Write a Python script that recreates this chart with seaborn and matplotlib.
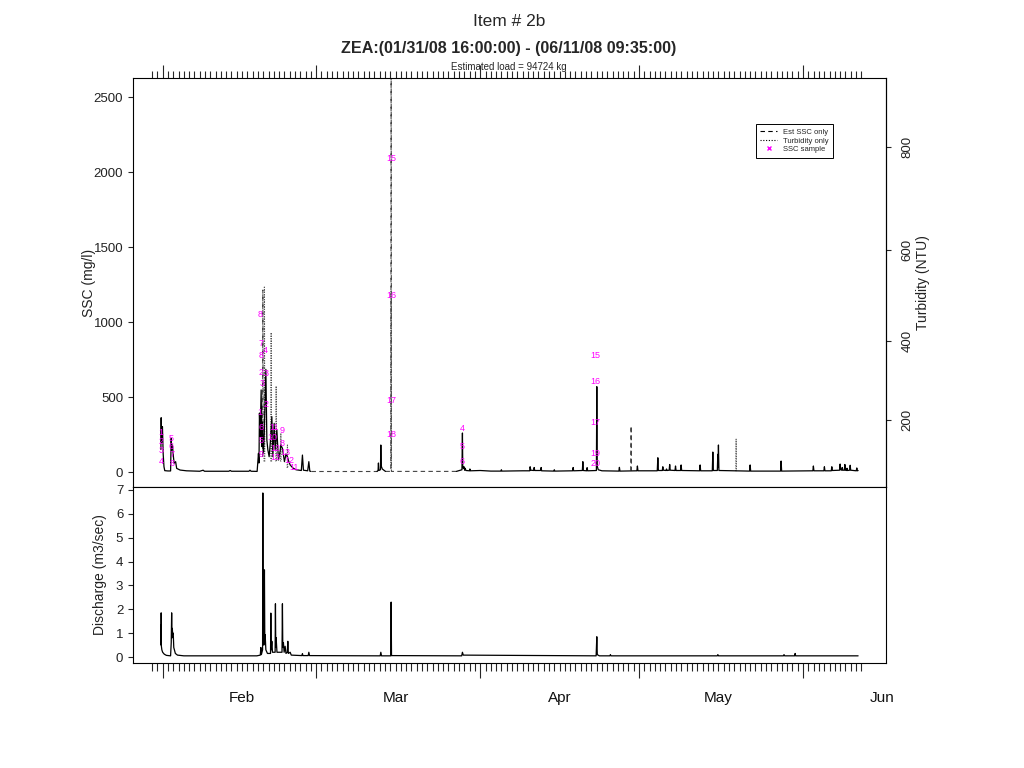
import numpy as np
import pandas as pd
import matplotlib
matplotlib.use('Agg')
import matplotlib.pyplot as plt
import matplotlib.dates as mdates
from matplotlib.ticker import FixedLocator
from matplotlib.lines import Line2D
import seaborn as sns

# all times are days after 2008-02-01 00:00
t0 = pd.Timestamp('2008-02-01')
t_start = pd.Timestamp('2008-01-31 16:00')
t_end = pd.Timestamp('2008-06-11 09:35')

# SSC from turbidity (solid), mg/l
feb_day = [-0.33, -0.28, -0.22, -0.12, -0.04, 0.10, 0.25, 0.40, 1.00, 1.50,
           1.61, 1.70, 1.85, 2.00, 2.17, 2.45, 2.65, 3.30, 4.50, 7.00,
           7.65, 7.90, 12.50, 12.75, 13.00, 16.30, 16.50, 16.70, 17.85, 18.10,
           18.20, 18.29, 18.42, 18.61, 18.74, 18.85, 19.04, 19.20, 19.50, 19.69,
           19.88, 20.12, 20.35, 20.63, 20.82, 21.07, 21.25, 21.58, 21.88, 22.20,
           22.33, 22.63, 23.01, 23.30, 23.58, 23.84, 24.09, 24.60, 25.20, 26.20,
           26.41, 26.60, 27.40, 27.62, 27.80, 28.00]
feb_ssc = [150, 362, 200, 240, 302, 120, 35, 9, 7, 7,
           224, 147, 180, 113, 58, 69, 24, 13, 8, 5,
           12, 5, 5, 10, 5, 5, 12, 5, 4, 124,
           60, 393, 236, 547, 169, 330, 127, 260, 684, 213,
           147, 102, 200, 369, 102, 324, 150, 280, 80, 140,
           180, 158, 69, 120, 100, 69, 47, 27, 15, 10,
           113, 12, 8, 69, 6, 4]

mar_day = [40.50, 40.70, 40.77, 40.85, 41.15, 41.22, 41.30, 41.50, 42.10]
mar_ssc = [4, 10, 60, 10, 15, 180, 40, 20, 4]

spring_day = [55.5, 56.55, 56.64, 56.70, 56.8, 56.95, 57.05, 57.15, 57.3, 58.0,
              58.05, 58.15, 60.0, 62.0, 63.9, 64.0, 64.1, 68.0, 69.35, 69.43,
              69.55, 70.1, 70.19, 70.3, 71.4, 71.51, 71.6, 73.9, 74.0, 74.1,
              77.45, 77.56, 77.65, 79.3, 79.39, 79.48, 80.1, 80.2, 80.3, 81.95,
              82.03, 82.10, 82.3, 83.0, 86.2, 86.3, 86.4, 89.6, 89.7, 89.8,
              93.45, 93.56, 93.66, 94.4, 94.5, 94.6, 95.1, 95.2, 95.3, 95.7,
              95.8, 95.9, 96.8, 96.9, 97.0, 97.86, 97.96, 98.06, 101.45, 101.55,
              101.65, 103.85, 103.95, 104.05, 104.8, 104.89, 104.95, 105.01, 105.1, 110.9,
              111.0, 111.1, 116.75, 116.85, 116.95, 122.85, 122.95, 123.05, 124.93, 125.03,
              125.13, 126.33, 126.43, 126.53, 127.9, 128.0, 128.1, 128.3, 128.4, 128.5,
              128.8, 128.9, 129.0, 129.2, 129.3, 129.4, 129.8, 129.9, 130.0, 131.05,
              131.15, 131.25, 131.4]
spring_ssc = [4, 15, 260, 40, 25, 35, 12, 25, 10, 8,
              20, 8, 10, 6, 6, 15, 6, 8, 8, 35,
              12, 10, 30, 10, 10, 30, 8, 6, 15, 6,
              8, 30, 8, 10, 69, 10, 8, 29, 8, 10,
              569, 40, 15, 8, 6, 31, 6, 8, 40, 8,
              8, 95, 10, 10, 35, 12, 10, 20, 10, 12,
              50, 12, 10, 40, 10, 10, 47, 10, 8, 47,
              8, 8, 133, 10, 10, 118, 30, 180, 10, 6,
              47, 6, 6, 73, 6, 8, 40, 8, 8, 35,
              8, 8, 35, 10, 12, 53, 15, 12, 30, 12,
              12, 50, 12, 10, 25, 10, 12, 45, 12, 8,
              27, 8, 10]

# Est SSC only (dashed)
est_day = [18.88, 18.93, 18.98, 28.0, 40.5, 42.1, 43.12, 43.17, 43.22, 55.5, 88.45, 88.51, 88.57]
est_ssc = [100, 1213, 100, 4, 4, 4, 4, 3000, 4, 4, 10, 307, 10]
est_seg = [1, 1, 1, 2, 2, 3, 3, 3, 3, 3, 4, 4, 4]

# Turbidity only (dotted), NTU
turb_day = [19.15, 19.23, 19.30, 20.42, 20.50, 20.58, 21.38, 21.44, 21.52, 22.27, 22.33,
            22.40, 23.52, 23.58, 23.64, 43.12, 43.17, 43.22, 108.30, 108.35, 108.40]
turb_ntu = [80, 524, 80, 80, 420, 80, 80, 290, 80, 80, 163,
            80, 60, 129, 60, 60, 515, 60, 50, 146, 50]
turb_seg = [1, 1, 1, 2, 2, 2, 3, 3, 3, 4, 4, 4, 5, 5, 5, 6, 6, 6, 7, 7, 7]

# turbidity -> SSC rating used for the right axis
rating_a, rating_b, rating_c = 0.0010125, 2.02, -97.5
ntu_ticks = [200, 400, 600, 800]

# discharge, m3/sec
q_day = [-0.33, -0.30, -0.28, -0.24, -0.15, 0.0, 0.3, 0.7, 1.5, 1.62,
         1.70, 1.76, 1.82, 1.90, 2.0, 2.1, 2.4, 2.8, 4.0, 17.8,
         18.45, 18.55, 18.65, 18.88, 18.93, 18.98, 19.04, 19.12, 19.23, 19.30,
         19.37, 19.5, 19.8, 20.38, 20.44, 20.50, 20.63, 20.75, 21.25, 21.31,
         21.37, 21.44, 21.6, 22.55, 22.63, 22.70, 22.82, 22.95, 23.14, 23.3,
         23.55, 23.65, 23.75, 24.09, 24.3, 26.3, 26.41, 26.5, 27.5, 27.62,
         27.75, 41.1, 41.22, 41.35, 43.10, 43.17, 43.24, 56.5, 56.64, 56.8,
         81.9, 82.03, 82.12, 82.5, 84.5, 84.6, 84.7, 104.8, 104.9, 105.0,
         117.3, 117.4, 117.5, 119.4, 119.5, 119.6, 131.4]
q_val = [1.35, 0.5, 1.85, 0.45, 0.3, 0.2, 0.12, 0.07, 0.05, 0.6,
         1.85, 0.8, 1.2, 0.95, 1.0, 0.4, 0.15, 0.08, 0.05, 0.05,
         0.08, 0.4, 0.1, 0.3, 6.87, 0.6, 1.28, 0.5, 3.65, 0.6,
         0.94, 0.3, 0.15, 0.15, 1.84, 0.3, 0.66, 0.2, 0.2, 2.23,
         0.4, 0.81, 0.2, 0.2, 2.23, 0.4, 0.6, 0.2, 0.45, 0.15,
         0.2, 0.66, 0.15, 0.2, 0.08, 0.06, 0.14, 0.06, 0.06, 0.2,
         0.06, 0.05, 0.2, 0.05, 0.05, 2.3, 0.06, 0.05, 0.2, 0.08,
         0.05, 0.85, 0.1, 0.05, 0.05, 0.1, 0.05, 0.05, 0.1, 0.05,
         0.05, 0.1, 0.05, 0.05, 0.15, 0.05, 0.05]

# SSC samples (bottle numbers)
smp_day = [-0.32, -0.30, -0.28, -0.24, 1.60, 1.64, 1.68, 1.74,
           18.50, 18.55, 18.58, 18.60, 18.75, 18.45, 18.50, 18.55, 18.58,
           19.48, 19.52, 19.60, 20.80, 21.05, 21.20, 21.35, 22.50, 22.62, 23.10, 23.95, 24.90,
           43.17, 43.17, 43.17, 43.17,
           56.64, 56.64, 56.64,
           81.84, 81.84, 81.84, 81.84, 81.84]
smp_ssc = [265, 205, 145, 69, 225, 170, 115, 60,
           1047, 860, 780, 665, 590, 400, 300, 210, 120,
           813, 660, 450, 230, 300, 160, 100, 280, 193, 130, 80, 30,
           2093, 1180, 480, 250,
           293, 169, 73,
           776, 602, 329, 126, 60]
smp_num = [1, 2, 3, 4, 5, 6, 7, 8,
           8, 7, 8, 2, 3, 1, 6, 5, 9,
           4, 3, 2, 10, 11, 12, 13, 9, 8, 13, 12, 11,
           15, 16, 17, 18,
           4, 5, 6,
           15, 16, 17, 19, 20]

months = ['Feb', 'Mar', 'Apr', 'May', 'Jun']


def to_time(days):
    return t0 + pd.to_timedelta(np.asarray(days, dtype=float), unit='D')


def ntu_to_ssc(t):
    t = np.asarray(t, dtype=float)
    return rating_a * t ** 2 + rating_b * t + rating_c


def ssc_to_ntu(s):
    s = np.asarray(s, dtype=float)
    disc = np.maximum(rating_b ** 2 + 4 * rating_a * (s - rating_c), 0)
    return (-rating_b + np.sqrt(disc)) / (2 * rating_a)


sns.set_style('ticks')
plt.rcParams['font.family'] = ['Liberation Sans', 'DejaVu Sans']
plt.rcParams['axes.edgecolor'] = 'black'
plt.rcParams['axes.linewidth'] = 0.8

solid = pd.concat([
    pd.DataFrame({'time': to_time(feb_day), 'ssc': feb_ssc, 'seg': 1}),
    pd.DataFrame({'time': to_time(mar_day), 'ssc': mar_ssc, 'seg': 2}),
    pd.DataFrame({'time': to_time(spring_day), 'ssc': spring_ssc, 'seg': 3}),
], ignore_index=True)
est = pd.DataFrame({'time': to_time(est_day), 'ssc': est_ssc, 'seg': est_seg})
turb = pd.DataFrame({'time': to_time(turb_day), 'ssc': ntu_to_ssc(turb_ntu), 'seg': turb_seg})
flow = pd.DataFrame({'time': to_time(q_day), 'q': q_val})

fig = plt.figure(figsize=(10.24, 7.68), dpi=100)
ax1 = fig.add_axes([133 / 1024, 1 - 487 / 768, 753 / 1024, 409 / 768])
ax2 = fig.add_axes([133 / 1024, 1 - 663 / 768, 753 / 1024, 176 / 768], sharex=ax1)

sns.lineplot(data=est, x='time', y='ssc', units='seg', estimator=None, ax=ax1,
             color='#444444', lw=0.8, linestyle=(0, (4, 3)))
sns.lineplot(data=turb, x='time', y='ssc', units='seg', estimator=None, ax=ax1,
             color='#555555', lw=0.8, linestyle=(0, (1, 1.2)))
sns.lineplot(data=solid, x='time', y='ssc', units='seg', estimator=None, ax=ax1,
             color='black', lw=0.9)
for d, s, n in zip(smp_day, smp_ssc, smp_num):
    ax1.text(mdates.date2num(t0 + pd.Timedelta(days=d)), s, str(n), color='magenta',
             fontsize=6.5, ha='center', va='center')

sns.lineplot(data=flow, x='time', y='q', ax=ax2, color='black', lw=0.9)

span = t_end - t_start
ax1.set_xlim(t_start - 0.04 * span, t_end + 0.04 * span)
ax1.set_ylim(-100, 2627)
ax2.set_ylim(-0.25, 7.12)

major = pd.date_range('2008-02-01', '2008-06-01', freq='MS')
minor = pd.date_range('2008-01-30', '2008-06-12', freq='D')
ax1.xaxis.set_major_locator(FixedLocator(mdates.date2num(major)))
ax1.xaxis.set_minor_locator(FixedLocator(mdates.date2num(minor)))

ax1.tick_params(axis='x', which='both', bottom=False, top=True, labelbottom=False, labeltop=False)
ax1.tick_params(axis='x', which='major', length=9.5, width=0.8)
ax1.tick_params(axis='x', which='minor', length=5, width=0.8)
ax2.tick_params(axis='x', which='both', bottom=True, top=False, labelbottom=False)
ax2.tick_params(axis='x', which='major', length=11, width=0.8)
ax2.tick_params(axis='x', which='minor', length=5.5, width=0.8)

ax1.set_yticks([0, 500, 1000, 1500, 2000, 2500])
ax2.set_yticks(range(0, 8))
for ax in (ax1, ax2):
    ax.tick_params(axis='y', which='both', left=True, right=False, length=3.5, width=0.8,
                   labelsize=9.5, labelcolor='#222222')
    ax.set_xlabel('')
    for sp in ax.spines.values():
        sp.set_visible(True)
        sp.set_color('black')
        sp.set_linewidth(0.8)
ax1.set_ylabel('SSC (mg/l)', fontsize=10, color='#222222', labelpad=-2)
ax2.set_ylabel('Discharge (m3/sec)', fontsize=10, color='#222222', labelpad=6.4)

sec_y = ax1.secondary_yaxis('right', functions=(ssc_to_ntu, ntu_to_ssc))
sec_y.set_yticks(ntu_ticks)
sec_y.tick_params(length=3.5, width=0.8, pad=7.8, labelsize=9.5, labelcolor='#222222',
                  labelrotation=90)
for lab in sec_y.get_yticklabels():
    lab.set_va('center')
sec_y.set_ylabel('Turbidity (NTU)', fontsize=10, color='#222222', labelpad=2)

mid = major + pd.Timedelta(days=15)
sec_x = ax2.secondary_xaxis('bottom')
sec_x.set_xticks(mdates.date2num(mid))
sec_x.set_xticklabels(months)
sec_x.tick_params(length=0, pad=20, labelsize=11, labelcolor='#111111')
sec_x.spines['bottom'].set_visible(False)

handles = [Line2D([], [], color='black', lw=0.8, linestyle=(0, (4, 3))),
           Line2D([], [], color='black', lw=0.8, linestyle=(0, (1, 1.5))),
           Line2D([], [], color='magenta', lw=0, marker='x', markersize=3.5)]
leg = ax1.legend(handles, ['Est SSC only', 'Turbidity only', 'SSC sample'],
                 loc='upper right', bbox_to_anchor=(0.930, 0.887), borderaxespad=0,
                 fontsize=5.5, frameon=True, fancybox=False, edgecolor='black',
                 handlelength=2.2, borderpad=0.6, labelspacing=0.15, handletextpad=0.8)
leg.get_frame().set_linewidth(0.7)
leg.get_frame().set_alpha(1)

fig.text(509 / 1024, 1 - 22 / 768, 'Item # 2b', ha='center', va='center', fontsize=12.5)
fig.text(509 / 1024, 1 - 48 / 768, 'ZEA:(01/31/08 16:00:00) - (06/11/08 09:35:00)',
         ha='center', va='center', fontsize=11.6, fontweight='bold')
fig.text(509 / 1024, 1 - 67 / 768, 'Estimated load = 94724 kg', ha='center', va='center', fontsize=7)

fig.savefig('out.png', dpi=100)
